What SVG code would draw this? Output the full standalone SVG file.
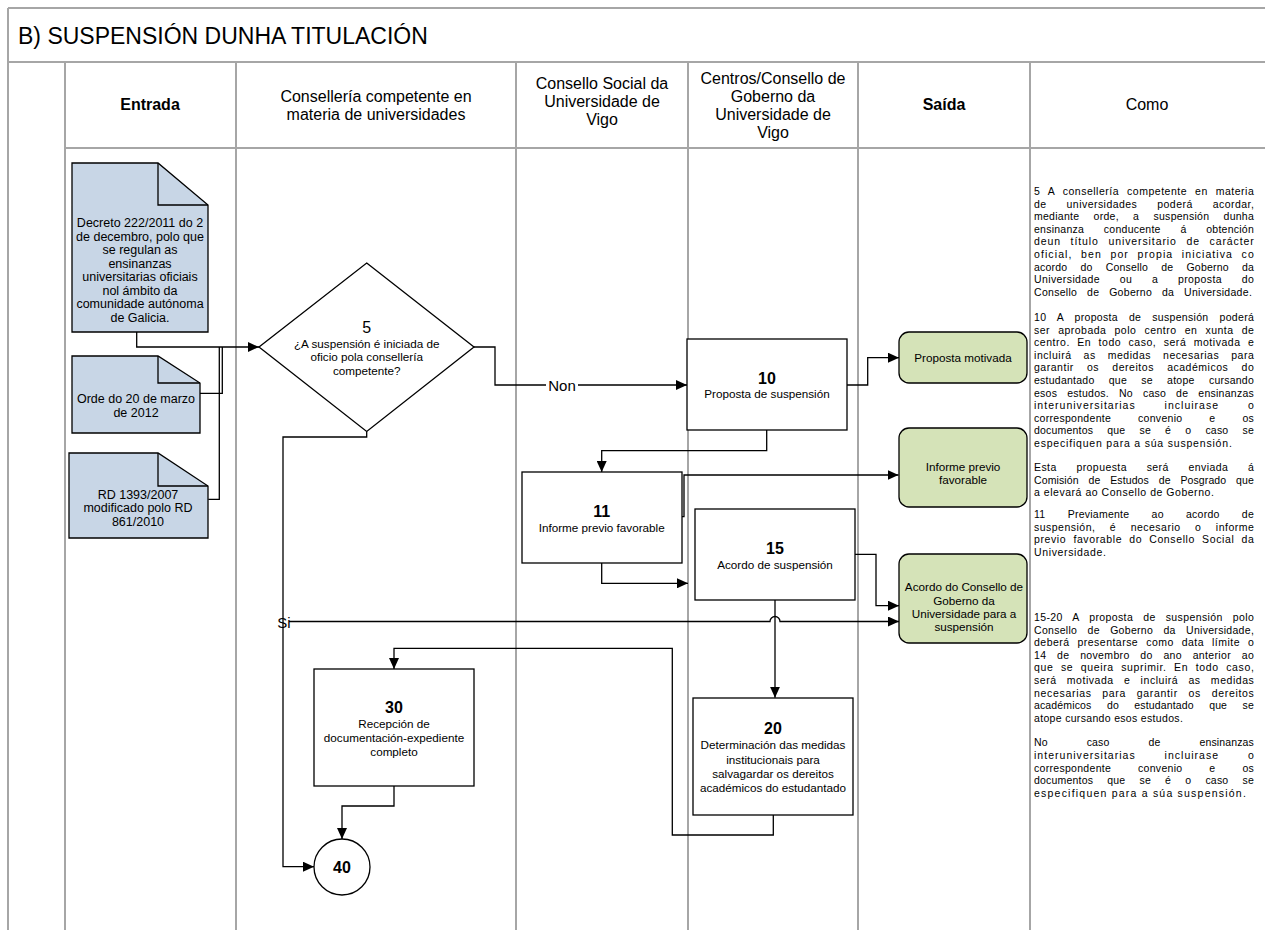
<svg xmlns="http://www.w3.org/2000/svg" width="1265" height="930" viewBox="0 0 1265 930">
<defs>
<style>
text{font-family:"Liberation Sans",Arial,sans-serif;fill:#000}
.lane{stroke:#a6a6a6;stroke-width:2;fill:none}
.box{fill:#fff;stroke:#000;stroke-width:1.3}
.doc{fill:#c8d6e6;stroke:#000;stroke-width:1.3}
.out{fill:#d5e3b8;stroke:#000;stroke-width:1.3}
.conn{fill:none;stroke:#000;stroke-width:1.3}
.hd{font-size:16px;text-anchor:middle}
.hb{font-size:16px;font-weight:bold;text-anchor:middle}
.t{font-size:11.7px;text-anchor:middle}
.dt{font-size:12.5px;text-anchor:middle}
.num{font-size:16px;font-weight:bold;text-anchor:middle}
.c{font-size:10.5px;letter-spacing:0.2px}
</style>
<marker id="arr" markerWidth="11" markerHeight="10" refX="11" refY="5" orient="auto" markerUnits="userSpaceOnUse"><path d="M0,0 L11,5 L0,10 z" fill="#000"/></marker>
</defs>
<rect width="1265" height="930" fill="#fff"/>
<g id="frame">
<path class="lane" d="M8,8 H1265 M8,8 V930 M8,62 H1265 M65,148 H1265 M65,62 V930 M236,62 V930 M516,62 V930 M688,62 V930 M858,62 V930 M1030,62 V930"/>
<text x="18" y="44" font-size="23">B) SUSPENSIÓN DUNHA TITULACIÓN</text>
<text class="hb" x="150" y="110">Entrada</text>
<text class="hd" x="376" y="101.5">Consellería competente en</text>
<text class="hd" x="376" y="119.5">materia de universidades</text>
<text class="hd" x="602" y="89">Consello Social da</text>
<text class="hd" x="602" y="107">Universidade de</text>
<text class="hd" x="602" y="125">Vigo</text>
<text class="hd" x="773" y="84">Centros/Consello de</text>
<text class="hd" x="773" y="102">Goberno da</text>
<text class="hd" x="773" y="120">Universidade de</text>
<text class="hd" x="773" y="138">Vigo</text>
<text class="hb" x="944" y="110">Saída</text>
<text class="hd" x="1147" y="110">Como</text>
</g>
<g id="connectors">
<path class="conn" d="M136.7,332 V347 H259" marker-end="url(#arr)"/>
<path class="conn" d="M200,393.3 H222.3 V347"/>
<path class="conn" d="M208.3,499.3 H219.3 V347"/>
<path class="conn" d="M474,347 H495 V385 H687" marker-end="url(#arr)"/>
<rect x="546" y="377" width="32" height="16" fill="#fff"/>
<text x="562" y="390.5" font-size="15" text-anchor="middle">Non</text>
<path class="conn" d="M847,385 H867.7 V357.7 H899" marker-end="url(#arr)"/>
<path class="conn" d="M766.7,430 V450.7 H601.7 V472" marker-end="url(#arr)"/>
<path class="conn" d="M681.7,516.7 H684 V475 H898.5" marker-end="url(#arr)"/>
<path class="conn" d="M601.7,563 V583.3 H688" marker-end="url(#arr)"/>
<path class="conn" d="M855,554.3 H876 V605.7 H899" marker-end="url(#arr)"/>
<path class="conn" d="M366.7,431.5 V437 H283 V866.7 H314" marker-end="url(#arr)"/>
<path class="conn" d="M289,621.5 H770 A5,5 0 0 1 780,621.5 H899" marker-end="url(#arr)"/>
<text x="284" y="628" font-size="15" text-anchor="middle">Si</text>
<path class="conn" d="M775,600 V697.7" marker-end="url(#arr)"/>
<path class="conn" d="M773.3,815 V835 H672.3 V648.3 H394 V669" marker-end="url(#arr)"/>
<path class="conn" d="M394,785.7 V806 H342 V839" marker-end="url(#arr)"/>
</g>
<g id="doc-decreto">
<path class="doc" d="M72,163 H158 L208,205 V332 H72 Z"/>
<path class="conn" d="M158,163 V205 H208"/>
<text class="dt" x="140" y="227">Decreto 222/2011 do 2</text>
<text class="dt" x="140" y="240.5">de decembro, polo que</text>
<text class="dt" x="140" y="254">se regulan as</text>
<text class="dt" x="140" y="267.5">ensinanzas</text>
<text class="dt" x="140" y="281">universitarias oficiais</text>
<text class="dt" x="140" y="294.5">nol ámbito da</text>
<text class="dt" x="140" y="308">comunidade autónoma</text>
<text class="dt" x="140" y="321.5">de Galicia.</text>
</g>
<g id="doc-orde">
<path class="doc" d="M72,356 H158 L200,383 V433 H72 Z"/>
<path class="conn" d="M158,356 V383 H200"/>
<text class="dt" x="136" y="403">Orde do 20 de marzo</text>
<text class="dt" x="136" y="416.5">de 2012</text>
</g>
<g id="doc-rd">
<path class="doc" d="M69,453 H158 L208,486 V538 H69 Z"/>
<path class="conn" d="M158,453 V486 H208"/>
<text class="dt" x="138" y="498.5">RD 1393/2007</text>
<text class="dt" x="138" y="512">modificado polo RD</text>
<text class="dt" x="138" y="525.5">861/2010</text>
</g>
<g id="n5">
<polygon class="box" points="366.7,263 474,347 366.7,431.5 259,347"/>
<text x="366.7" y="333" font-size="16" text-anchor="middle">5</text>
<text class="t" x="366.7" y="347.5">¿A suspensión é iniciada de</text>
<text class="t" x="366.7" y="361">oficio pola consellería</text>
<text class="t" x="366.7" y="374.5">competente?</text>
</g>
<g id="n10">
<rect class="box" x="687" y="339" width="160" height="91"/>
<text class="num" x="767" y="383.5">10</text>
<text class="t" x="767" y="398">Proposta de suspensión</text>
</g>
<g id="n11">
<rect class="box" x="522" y="472" width="160" height="91"/>
<text class="num" x="601.7" y="516.7">11</text>
<text class="t" x="601.7" y="531.5">Informe previo favorable</text>
</g>
<g id="n15">
<rect class="box" x="695" y="509" width="160" height="91"/>
<text class="num" x="775" y="554.3">15</text>
<text class="t" x="775" y="568.5">Acordo de suspensión</text>
</g>
<g id="n20">
<rect class="box" x="693" y="698" width="160" height="117"/>
<text class="num" x="773" y="734">20</text>
<text class="t" x="773" y="749">Determinación das medidas</text>
<text class="t" x="773" y="763.5">institucionais para</text>
<text class="t" x="773" y="777.5">salvagardar os dereitos</text>
<text class="t" x="773" y="792">académicos do estudantado</text>
</g>
<g id="n30">
<rect class="box" x="314" y="669" width="160" height="117"/>
<text class="num" x="394" y="712.5">30</text>
<text class="t" x="394" y="727.5">Recepción de</text>
<text class="t" x="394" y="741.5">documentación-expediente</text>
<text class="t" x="394" y="755.5">completo</text>
</g>
<g id="n40">
<circle class="box" cx="342" cy="867" r="28"/>
<text class="num" x="342" y="872.5">40</text>
</g>
<g id="out1">
<rect class="out" x="899" y="332" width="128" height="51" rx="10"/>
<text class="t" x="963" y="362">Proposta motivada</text>
</g>
<g id="out2">
<rect class="out" x="899" y="428" width="128" height="79" rx="10"/>
<text class="t" x="963" y="470.5">Informe previo</text>
<text class="t" x="963" y="484">favorable</text>
</g>
<g id="out3">
<rect class="out" x="899" y="554" width="128" height="89" rx="10"/>
<text class="t" x="964" y="591">Acordo do Consello de</text>
<text class="t" x="964" y="604.5">Goberno da</text>
<text class="t" x="964" y="618">Universidade para a</text>
<text class="t" x="964" y="631">suspensión</text>
</g>
<g id="como">
<text class="c" x="1034" y="195" word-spacing="4.6" textLength="220" lengthAdjust="spacing">5 A consellería competente en materia</text>
<text class="c" x="1034" y="207.6" word-spacing="16.6" textLength="220" lengthAdjust="spacing">de universidades poderá acordar,</text>
<text class="c" x="1034" y="220.2" word-spacing="11.1" textLength="220" lengthAdjust="spacing">mediante orde, a suspensión dunha</text>
<text class="c" x="1034" y="232.8" word-spacing="16.6" textLength="220" lengthAdjust="spacing">ensinanza conducente á obtención</text>
<text class="c" x="1034" y="245.4" word-spacing="5.8" textLength="220" lengthAdjust="spacing">deun título universitario de carácter</text>
<text class="c" x="1034" y="258" word-spacing="4.6" textLength="220" lengthAdjust="spacing">oficial, ben por propia iniciativa co</text>
<text class="c" x="1034" y="270.6" word-spacing="10" textLength="220" lengthAdjust="spacing">acordo do Consello de Goberno da</text>
<text class="c" x="1034" y="283.2" word-spacing="16.4" textLength="220" lengthAdjust="spacing">Universidade ou a proposta do</text>
<text class="c" x="1034" y="295.8" word-spacing="6.6" textLength="218" lengthAdjust="spacing">Consello de Goberno da Universidade.</text>
<text class="c" x="1034" y="321" word-spacing="7.8" textLength="220" lengthAdjust="spacing">10 A proposta de suspensión poderá</text>
<text class="c" x="1034" y="333.6" word-spacing="4.75" textLength="220" lengthAdjust="spacing">ser aprobada polo centro en xunta de</text>
<text class="c" x="1034" y="346.2" word-spacing="3.9" textLength="220" lengthAdjust="spacing">centro. En todo caso, será motivada e</text>
<text class="c" x="1034" y="358.8" word-spacing="8.45" textLength="220" lengthAdjust="spacing">incluirá as medidas necesarias para</text>
<text class="c" x="1034" y="371.4" word-spacing="9.8" textLength="220" lengthAdjust="spacing">garantir os dereitos académicos do</text>
<text class="c" x="1034" y="384" word-spacing="11.1" textLength="220" lengthAdjust="spacing">estudantado que se atope cursando</text>
<text class="c" x="1034" y="396.6" word-spacing="6.8" textLength="220" lengthAdjust="spacing">esos estudos. No caso de ensinanzas</text>
<text class="c" x="1034" y="409.2" word-spacing="24.9" textLength="220" lengthAdjust="spacing">interuniversitarias incluirase o</text>
<text class="c" x="1034" y="421.8" word-spacing="23.7" textLength="220" lengthAdjust="spacing">correspondente convenio e os</text>
<text class="c" x="1034" y="434.4" word-spacing="11" textLength="220" lengthAdjust="spacing">documentos que se é o caso se</text>
<text class="c" x="1034" y="447" textLength="198" lengthAdjust="spacing">especifiquen para a súa suspensión.</text>
<text class="c" x="1034" y="471" word-spacing="16.4" textLength="220" lengthAdjust="spacing">Esta propuesta será enviada á</text>
<text class="c" x="1034" y="483.6" word-spacing="6.8" textLength="220" lengthAdjust="spacing">Comisión de Estudos de Posgrado que</text>
<text class="c" x="1034" y="496.2" textLength="180" lengthAdjust="spacing">a elevará ao Consello de Goberno.</text>
<text class="c" x="1034" y="518" word-spacing="19.1" textLength="220" lengthAdjust="spacing">11 Previamente ao acordo de</text>
<text class="c" x="1034" y="530.6" word-spacing="11.1" textLength="220" lengthAdjust="spacing">suspensión, é necesario o informe</text>
<text class="c" x="1034" y="543.2" word-spacing="3.6" textLength="220" lengthAdjust="spacing">previo favorable do Consello Social da</text>
<text class="c" x="1034" y="555.8" textLength="72" lengthAdjust="spacing">Universidade.</text>
<text class="c" x="1034" y="621" word-spacing="6.8" textLength="220" lengthAdjust="spacing">15-20 A proposta de suspensión polo</text>
<text class="c" x="1034" y="633.6" word-spacing="7.1" textLength="220" lengthAdjust="spacing">Consello de Goberno da Universidade,</text>
<text class="c" x="1034" y="646.2" word-spacing="4.6" textLength="220" lengthAdjust="spacing">deberá presentarse como data límite o</text>
<text class="c" x="1034" y="658.8" word-spacing="7.4" textLength="220" lengthAdjust="spacing">14 de novembro do ano anterior ao</text>
<text class="c" x="1034" y="671.4" word-spacing="3.9" textLength="220" lengthAdjust="spacing">que se queira suprimir. En todo caso,</text>
<text class="c" x="1034" y="684" word-spacing="6.8" textLength="220" lengthAdjust="spacing">será motivada e incluirá as medidas</text>
<text class="c" x="1034" y="696.6" word-spacing="7.1" textLength="220" lengthAdjust="spacing">necesarias para garantir os dereitos</text>
<text class="c" x="1034" y="709.2" word-spacing="12.4" textLength="220" lengthAdjust="spacing">académicos do estudantado que se</text>
<text class="c" x="1034" y="721.8" textLength="149" lengthAdjust="spacing">atope cursando esos estudos.</text>
<text class="c" x="1034" y="746.4" word-spacing="36" textLength="220" lengthAdjust="spacing">No caso de ensinanzas</text>
<text class="c" x="1034" y="759" word-spacing="24.9" textLength="220" lengthAdjust="spacing">interuniversitarias incluirase o</text>
<text class="c" x="1034" y="771.6" word-spacing="23.7" textLength="220" lengthAdjust="spacing">correspondente convenio e os</text>
<text class="c" x="1034" y="784.2" word-spacing="11" textLength="220" lengthAdjust="spacing">documentos que se é o caso se</text>
<text class="c" x="1034" y="796.8" textLength="212" lengthAdjust="spacing">especifiquen para a súa suspensión.</text>
</g>
</svg>
